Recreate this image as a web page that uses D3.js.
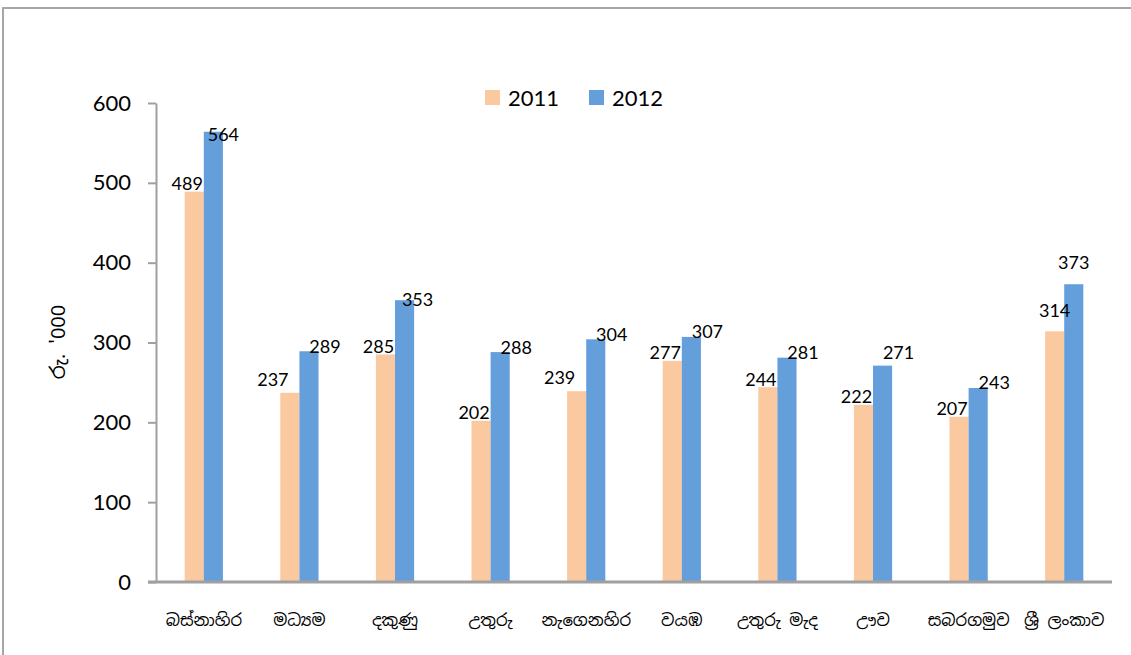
<html>
<head>
    <meta charset="utf-8">
    <title>provinces 2011 2012</title>
</head>
<body style="margin: 0; background: #fff;">
    <svg></svg>
</body>

<script src="https://cdn.jsdelivr.net/npm/d3@7"></script>
<script>
const width = 1131;
const height = 655;

// data
const provinces = ['බස්නාහිර', 'මධ්\u200Dයම', 'දකුණු', 'උතුරු', 'නැගෙනහිර', 'වයඹ', 'උතුරු මැද', 'ඌව', 'සබරගමුව', 'ශ්\u200Dරී ලංකාව'];
const years = ['2011', '2012'];
const v2011 = [489, 237, 285, 202, 239, 277, 244, 222, 207, 314];
const v2012 = [564, 289, 353, 288, 304, 307, 281, 271, 243, 373];
const yTicks = [0, 100, 200, 300, 400, 500, 600];
const yLabel = 'රු. \'000';

const colors = {'2011': '#fac9a0', '2012': '#659fdb'};
const axisColor = '#a0a0a0';
const sinhalaFont = '"Noto Sans Sinhala", "Iskoola Pota", "Noto Sans", sans-serif';
const numFont = 'Lato, "Open Sans", sans-serif';

// label offsets (from bar centre / top), with a few hand nudges like the original
const labelBase = {'2011': [-7, -8], '2012': [16, -5]};
const labelNudge = {
    '0|2012': [-6, 8], '2|2012': [-3, 4],
    '1|2011': [-10, -5], '4|2011': [-10, -6],
    '7|2012': [0, -8],
    '9|2011': [7, -13], '9|2012': [-16, -17],
};

const rows = provinces.map((p, i) => ({cat: p, i: i, '2011': v2011[i], '2012': v2012[i]}));

const svg = d3.select('svg')
    .attr('width', width)
    .attr('height', height)
    .style('display', 'block');

// outer frame
svg.append('rect')
    .attr('x', 3).attr('y', 8)
    .attr('width', width + 10).attr('height', height + 10)
    .attr('fill', 'none')
    .attr('stroke', '#a6a6a6')
    .attr('stroke-width', 2);

const x0 = d3.scaleBand()
    .domain(provinces)
    .range([156, 1112])
    .paddingInner(0.6)
    .paddingOuter(0.3);

const x1 = d3.scaleBand()
    .domain(years)
    .range([0, x0.bandwidth()]);

const y = d3.scaleLinear()
    .domain([0, 600])
    .range([582, 103]);

// bars
const group = svg.append('g')
    .selectAll('g')
    .data(rows)
    .join('g')
        .attr('transform', d => `translate(${x0(d.cat)},0)`);

group.selectAll('rect')
    .data(d => years.map(k => ({k: k, v: d[k], i: d.i})))
    .join('rect')
        .attr('x', d => x1(d.k))
        .attr('y', d => y(d.v))
        .attr('width', x1.bandwidth())
        .attr('height', d => y(0) - y(d.v))
        .attr('fill', d => colors[d.k]);

// y axis
const yAxis = svg.append('g')
    .attr('transform', 'translate(156,0)')
    .call(d3.axisLeft(y).tickValues(yTicks).tickSize(8).tickPadding(17).tickSizeOuter(0));
yAxis.select('.domain').attr('stroke', axisColor).attr('stroke-width', 2);
yAxis.selectAll('.tick line').attr('stroke', axisColor).attr('stroke-width', 2);
yAxis.selectAll('.tick text')
    .attr('fill', '#000')
    .style('font-family', numFont)
    .style('font-size', '22px');

// x axis baseline
const xAxis = svg.append('g')
    .attr('transform', `translate(0,${y(0)})`)
    .call(d3.axisBottom(x0).tickSize(0).tickPadding(32).tickSizeOuter(0));
xAxis.select('.domain')
    .attr('d', `M148,0H${x0.range()[1]}`)
    .attr('stroke', axisColor).attr('stroke-width', 3);
xAxis.selectAll('.tick text')
    .attr('fill', '#000')
    .style('font-family', sinhalaFont)
    .style('font-size', '16.5px');

// data labels
group.selectAll('text.val')
    .data(d => years.map(k => ({k: k, v: d[k], i: d.i})))
    .join('text')
        .attr('class', 'val')
        .attr('x', d => x1(d.k) + x1.bandwidth() / 2 + labelBase[d.k][0] + ((labelNudge[d.i + '|' + d.k] || [0, 0])[0]))
        .attr('y', d => y(d.v) + labelBase[d.k][1] + ((labelNudge[d.i + '|' + d.k] || [0, 0])[1]))
        .attr('dy', '0.36em')
        .attr('text-anchor', 'middle')
        .style('font-family', numFont)
        .style('font-size', '18px')
        .text(d => d.v);

// y label
svg.append('text')
    .attr('transform', 'translate(58,342) rotate(-90)')
    .attr('text-anchor', 'middle')
    .attr('dy', '0.35em')
    .style('font-family', sinhalaFont)
    .style('font-size', '20px')
    .text(yLabel);

// legend
const legend = svg.append('g')
    .selectAll('g')
    .data(years)
    .join('g')
        .attr('transform', (d, i) => `translate(${485 + i * 104},90)`);
legend.append('rect')
    .attr('width', 15).attr('height', 15)
    .attr('fill', d => colors[d]);
legend.append('text')
    .attr('x', 23).attr('y', 8)
    .attr('dy', '0.36em')
    .style('font-family', numFont)
    .style('font-size', '22px')
    .text(d => d);
</script>
</html>
